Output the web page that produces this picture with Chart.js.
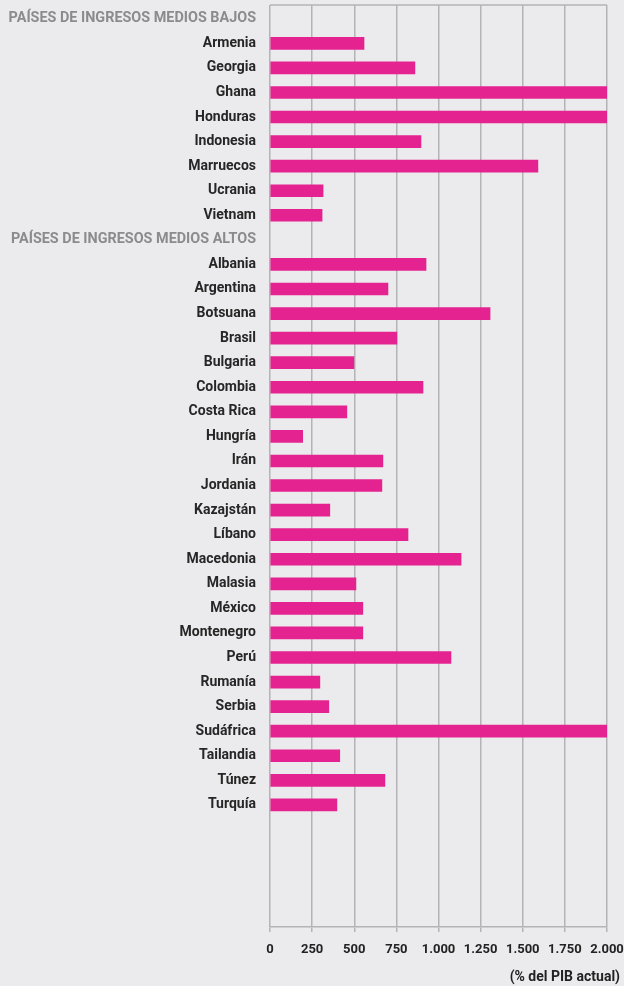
<!DOCTYPE html>
<html>
<head>
<meta charset="utf-8">
<script src="https://cdn.jsdelivr.net/npm/chart.js@4"></script>
<style>
  html, body { margin: 0; padding: 0; background: #ebebed; }
  #wrap { width: 624px; height: 986px; position: relative; }
</style>
</head>
<body>
<div id="wrap"><canvas id="gdp-chart"></canvas></div>
<script>
// rows top to bottom, group headings included
const categories = [
    'PAÍSES DE INGRESOS MEDIOS BAJOS',
    'Armenia', 'Georgia', 'Ghana', 'Honduras', 'Indonesia', 'Marruecos', 'Ucrania', 'Vietnam',
    'PAÍSES DE INGRESOS MEDIOS ALTOS',
    'Albania', 'Argentina', 'Botsuana', 'Brasil', 'Bulgaria', 'Colombia', 'Costa Rica', 'Hungría',
    'Irán', 'Jordania', 'Kazajstán', 'Líbano', 'Macedonia', 'Malasia', 'México', 'Montenegro',
    'Perú', 'Rumanía', 'Serbia', 'Sudáfrica', 'Tailandia', 'Túnez', 'Turquía'
];
const headerRows = [0, 9];
// % del PIB actual (null on heading rows)
const gdpShare = [
    null,
    558, 860, 2000, 2000, 896, 1590, 315, 309,
    null,
    926, 700, 1306, 753, 498, 908, 456, 194,
    670, 664, 355, 819, 1134, 510, 551, 551,
    1074, 296, 349, 2000, 414, 682, 397
];
const xMax = 2000;
const xStep = 250;
const axisTitle = '(% del PIB actual)';

const barColor = '#e52390';
const gridColor = '#b4b4b6';
const font = 'Roboto';

const points = [];
gdpShare.forEach((v, i) => {
    if (v !== null) points.push({ x: v, y: i });
});

function fmt(n) {
    return String(n).replace(/\B(?=(\d{3})+(?!\d))/g, '.');
}

function isHeader(ctx) {
    return !!ctx.tick && headerRows.includes(ctx.tick.value);
}

// line along the top of the plot + axis title at the bottom right
const extras = {
    id: 'extras',
    beforeDatasetsDraw(chart) {
        const { ctx, chartArea } = chart;
        ctx.save();
        ctx.strokeStyle = gridColor;
        ctx.lineWidth = 1.5;
        ctx.beginPath();
        ctx.moveTo(chartArea.left, chartArea.top);
        ctx.lineTo(chartArea.right, chartArea.top);
        ctx.stroke();
        ctx.restore();
    },
    afterDraw(chart) {
        const { ctx } = chart;
        ctx.save();
        ctx.font = 'bold 14px ' + font;
        ctx.fillStyle = '#222';
        ctx.textAlign = 'right';
        ctx.textBaseline = 'middle';
        ctx.fillText(axisTitle, 620, 977);
        ctx.restore();
    }
};

new Chart(document.getElementById('gdp-chart'), {
    type: 'bar',
    data: {
        datasets: [{
            data: points,
            backgroundColor: barColor,
            barThickness: 12,
            borderWidth: 0
        }]
    },
    options: {
        indexAxis: 'y',
        responsive: true,
        maintainAspectRatio: false,
        animation: false,
        layout: { padding: { top: 5, right: 17, left: 0, bottom: 0 } },
        plugins: {
            legend: { display: false },
            tooltip: { enabled: false }
        },
        scales: {
            x: {
                type: 'linear',
                min: 0,
                max: xMax,
                grid: {
                    color: gridColor,
                    lineWidth: 1.5,
                    tickLength: 5
                },
                border: { color: gridColor, width: 1.5 },
                ticks: {
                    stepSize: xStep,
                    padding: 10,
                    color: '#222',
                    font: { family: font, size: 13, weight: 'bold' },
                    callback: v => fmt(v)
                },
                afterFit: s => {
                    s.height = 59;
                    s.paddingLeft = 0;
                    s.paddingRight = 0;
                }
            },
            y: {
                type: 'linear',
                reverse: true,
                offset: false,
                bounds: 'data',
                min: -0.56,
                max: 36.97,
                grid: { display: false, drawTicks: false, offset: false },
                border: { display: false },
                afterBuildTicks: s => {
                    s.ticks = categories.map((c, i) => ({ value: i }));
                },
                ticks: {
                    autoSkip: false,
                    padding: 14,
                    color: ctx => isHeader(ctx) ? '#8b8b8d' : '#262626',
                    font: ctx => ({
                        family: font,
                        size: isHeader(ctx) ? 14.4 : 14,
                        weight: 'bold'
                    }),
                    callback: v => categories[v] || ''
                },
                afterFit: s => {
                    s.width = 270;
                    s.paddingTop = 0;
                    s.paddingBottom = 0;
                }
            }
        }
    },
    plugins: [extras]
});
</script>
</body>
</html>
